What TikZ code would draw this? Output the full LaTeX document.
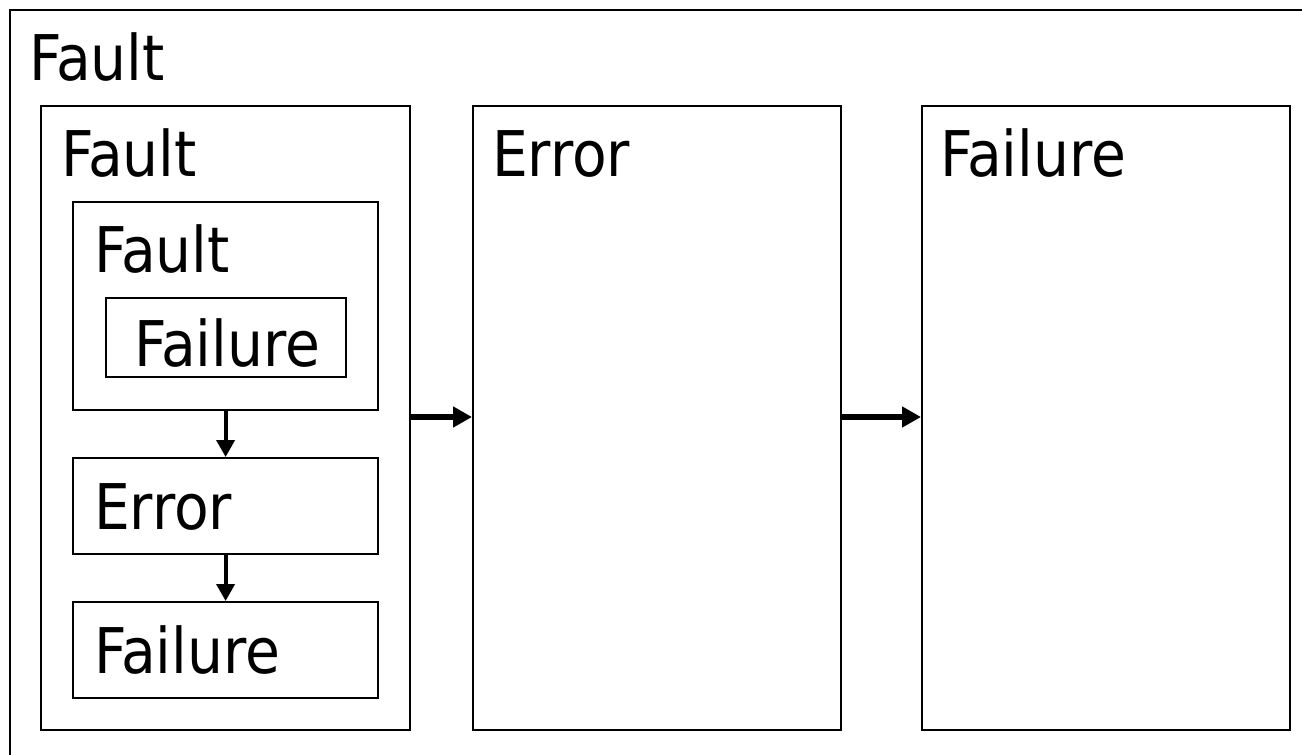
\documentclass[tikz,border=0pt]{standalone}
\usepackage{fontspec}
\setmainfont{DejaVu Sans Condensed}
\usetikzlibrary{arrows.meta}
\tikzset{
  box/.style={draw, line width=2.2pt, rectangle, inner sep=0pt, anchor=north west},
  lbl/.style={anchor=base west, inner sep=0pt, font=\fontsize{63}{70}\selectfont},
  harrow/.style={line width=5.5pt, -{Triangle[length=19pt,width=20pt]}},
  varrow/.style={line width=3.8pt, -{Triangle[length=17pt,width=18pt]}},
}
\begin{document}
\begin{tikzpicture}[x=1pt,y=-1pt]
\clip (0,0) rectangle (1302,755);
\fill[white] (0,0) rectangle (1302,755);
% outer box (right and bottom edges lie beyond the picture)
\node[box, minimum width=1320pt, minimum height=770pt] (outer) at (9,9) {};
\node[lbl] (outerlbl) at (29,80) {Fault};
% level 1 boxes
\node[box, minimum width=369pt, minimum height=624pt] (fault1) at (40,105) {};
\node[lbl] (fault1lbl) at (61,176) {Fault};
\node[box, minimum width=368pt, minimum height=624pt] (error1) at (472,105) {};
\node[lbl] (error1lbl) at (492,176) {Error};
\node[box, minimum width=368pt, minimum height=624pt] (failure1) at (921,105) {};
\node[lbl] (failure1lbl) at (940,176) {Failure};
% inside Fault
\node[box, minimum width=305pt, minimum height=208pt] (fault2) at (72,201) {};
\node[lbl] (fault2lbl) at (94,272) {Fault};
\node[box, minimum width=240pt, minimum height=79pt] (failure3) at (105,297) {};
\node[lbl] (failure3lbl) at (134,366) {Failure};
\node[box, minimum width=305pt, minimum height=96pt] (error2) at (72,457) {};
\node[lbl] (error2lbl) at (94,529) {Error};
\node[box, minimum width=305pt, minimum height=96pt] (failure2) at (72,601) {};
\node[lbl] (failure2lbl) at (94,673) {Failure};
% arrows
\draw[varrow] (fault2.south) -- (error2.north);
\draw[varrow] (error2.south) -- (failure2.north);
\draw[harrow] (fault1.east |- 0,417) -- (error1.west |- 0,417);
\draw[harrow] (error1.east |- 0,417) -- (failure1.west |- 0,417);
\end{tikzpicture}
\end{document}
